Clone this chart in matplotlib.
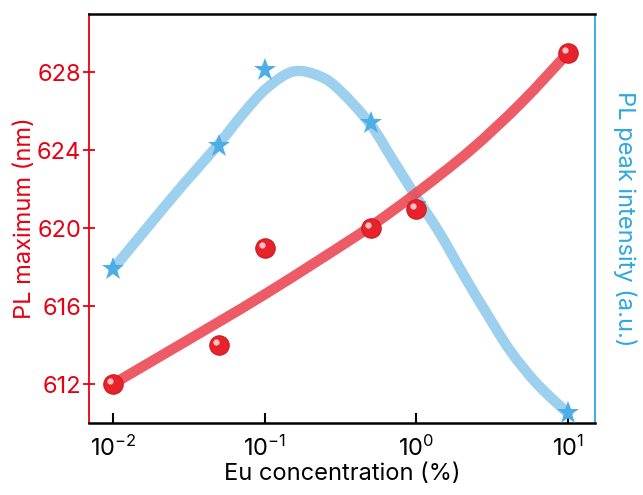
import matplotlib
matplotlib.use("Agg")
import matplotlib.pyplot as plt
from matplotlib.transforms import offset_copy
from matplotlib.path import Path
from matplotlib.patches import PathPatch
import numpy as np

FONT = ['Inter', 'DejaVu Sans']
plt.rcParams['font.family'] = FONT
plt.rcParams['mathtext.fontset'] = 'custom'
plt.rcParams['mathtext.rm'] = 'Inter'
plt.rcParams['mathtext.it'] = 'Inter'
plt.rcParams['mathtext.default'] = 'regular'

# Data: PL maximum (red spheres) and PL peak intensity (blue stars)
conc = [0.01, 0.05, 0.1, 0.5, 1.0, 10.0]
pl_max = [612.0, 614.0, 619.0, 620.0, 621.0, 629.0]
pl_int = [617.9, 624.2, 628.1, 625.4, 621.2, 610.5]

# Fitted guide curves (log10 of concentration, value)
red_fit_logx = [-2.0, -1.65, -1.3, -1.0, -0.634, -0.3, 0.0, 0.356, 0.687, 1.0]
red_fit_y = [612.0, 613.6, 615.2, 616.6, 618.4, 620.1, 621.8, 624.0, 626.4, 629.0]
blue_fit_logx = [-2.0, -1.756, -1.536, -1.305, -1.14, -0.985, -0.81,
                 -0.634, -0.5, -0.304, -0.15, 0.0, 0.158, 0.312, 0.466, 0.62, 0.797, 1.0]
blue_fit_y = [617.9, 620.2, 622.25, 624.3, 625.9, 627.2, 628.05,
              627.8, 627.05, 625.35, 623.45, 621.6, 619.7, 617.6, 615.6, 613.7, 612.0, 610.5]

x_ticks = [0.01, 0.1, 1, 10]
x_ticklabels = ['$10^{-2}$', '$10^{-1}$', '$10^{0}$', '$10^{1}$']
y_ticks = [612, 616, 620, 624, 628]

RED = '#E60012'
BLUE = '#2EA7E0'
FS = 17


def smooth_path(lx, y):
    """Cubic Bezier path (Catmull-Rom control points) through the read points."""
    lx = np.asarray(lx, float)
    y = np.asarray(y, float)
    p = np.column_stack([lx, y])
    verts = [p[0]]
    codes = [Path.MOVETO]
    n = len(p)
    for i in range(n - 1):
        p0 = p[i - 1] if i > 0 else p[i]
        p1 = p[i]
        p2 = p[i + 1]
        p3 = p[i + 2] if i + 2 < n else p[i + 1]
        c1 = p1 + (p2 - p0) / 6.0
        c2 = p2 - (p3 - p1) / 6.0
        verts += [c1, c2, p2]
        codes += [Path.CURVE4] * 3
    verts = np.array(verts)
    verts[:, 0] = 10 ** verts[:, 0]
    return Path(verts, codes)


fig = plt.figure(figsize=(6.43, 4.95), dpi=100)
ax = fig.add_axes([0.1384, 0.1455, 0.7869, 0.8262])
ax.set_xscale('log')
ax.set_xlim(10 ** -2.158, 10 ** 1.178)
ax.set_ylim(610, 631)

ax.add_patch(PathPatch(smooth_path(blue_fit_logx, blue_fit_y), facecolor='none',
                       edgecolor='#9DD0EE', lw=7.5, capstyle='round',
                       joinstyle='round', zorder=3))
ax.plot(conc, pl_int, linestyle='none', marker='*', markersize=17,
        color='#4CAEE5', markeredgewidth=0, zorder=4)
ax.add_patch(PathPatch(smooth_path(red_fit_logx, red_fit_y), facecolor='none',
                       edgecolor='#EC4A55', lw=7.5, alpha=0.9, capstyle='round',
                       joinstyle='round', zorder=5))
ax.plot(conc, pl_max, linestyle='none', marker='o', markersize=14,
        markerfacecolor='#E8222A', markeredgecolor='#D01A20', markeredgewidth=0.8, zorder=6)
hl = offset_copy(ax.transData, fig=fig, x=-3, y=3, units='dots')
ax.plot(conc, pl_max, linestyle='none', marker='o', markersize=4.5, transform=hl,
        markerfacecolor='#FBD3D5', markeredgewidth=0, alpha=0.9, zorder=7)

ax.set_xticks(x_ticks)
ax.set_xticklabels(x_ticklabels)
ax.xaxis.set_minor_locator(matplotlib.ticker.NullLocator())
ax.tick_params(axis='x', direction='in', length=7, width=1.5, colors='black',
               labelsize=FS, pad=9)
ax.set_yticks(y_ticks)
ax.tick_params(axis='y', direction='inout', length=9, width=1.3, colors=RED,
               labelsize=FS, pad=1)

for s in ['top', 'bottom']:
    ax.spines[s].set_color('black')
    ax.spines[s].set_linewidth(1.8)
ax.spines['left'].set_color(RED)
ax.spines['left'].set_linewidth(1.3)
ax.spines['right'].set_color(BLUE)
ax.spines['right'].set_linewidth(1.3)

ax.set_xlabel('Eu concentration (%)', fontsize=FS, color='black', labelpad=2)
ax.set_ylabel('PL maximum (nm)', fontsize=FS, color=RED, labelpad=1)

ax2 = ax.twinx()
ax2.set_ylim(610, 631)
ax2.set_yticks([])
for s in ax2.spines.values():
    s.set_visible(False)
ax2.set_ylabel('PL peak intensity (a.u.)', fontsize=FS, color=BLUE,
               rotation=-90, labelpad=30)

fig.savefig('out.png', dpi=100)
